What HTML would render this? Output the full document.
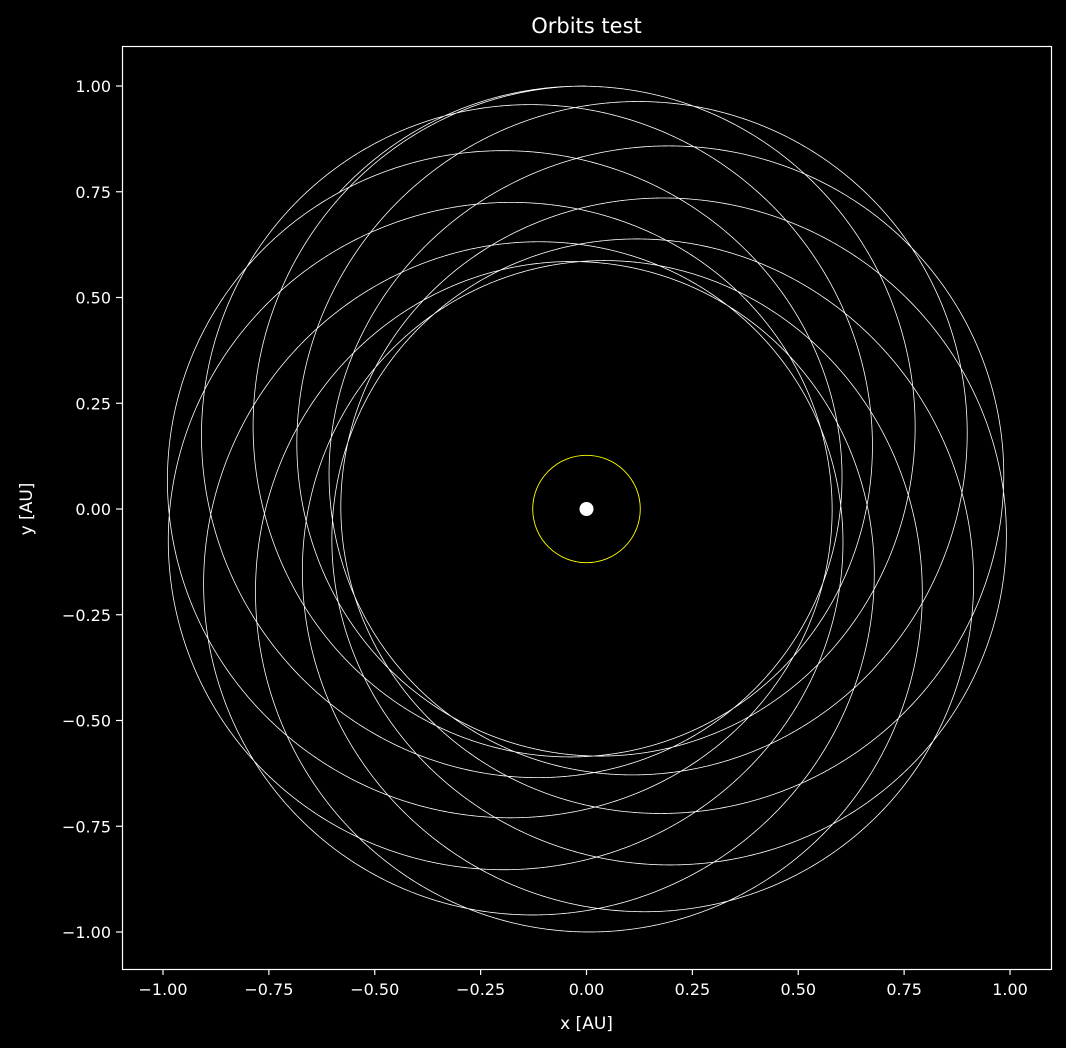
<!DOCTYPE html>
<html><head><meta charset="utf-8"><style>
html,body{margin:0;padding:0;background:#000;}
svg{display:block;font-family:"DejaVu Sans","Liberation Sans",sans-serif;}
</style></head><body>
<svg id="chart" width="1066" height="1048" viewBox="0 0 1066 1048">
<rect width="1066" height="1048" fill="#000"/>
<g id="plot"></g>
<rect x="122.5" y="46.5" width="929" height="923" fill="none" stroke="#fff" stroke-width="1.2"/>
<g id="axes"></g>
<text x="586.5" y="33" fill="#fff" font-size="21" text-anchor="middle">Orbits test</text>
<text x="586.5" y="1029" fill="#fff" font-size="17" text-anchor="middle">x [AU]</text>
<text x="32" y="509" fill="#fff" font-size="17" text-anchor="middle" transform="rotate(-90 32 509)">y [AU]</text>
</svg>
<script>
const xTicks=[-1,-0.75,-0.5,-0.25,0,0.25,0.5,0.75,1];
const yTicks=[-1,-0.75,-0.5,-0.25,0,0.25,0.5,0.75,1];
const apsides=[0.58,1.0];            // periapsis, apoapsis [AU]
const startAngleDeg=[90];            // start position angle
const endAngleDeg=[128];             // final position angle
const orbitCount=[11];
const precessionDeg=[33];            // per orbit
const innerRingRadius=[0.127];       // yellow ring
const NS="http://www.w3.org/2000/svg";
const X=v=>586.5+v*423.5, Y=v=>509-v*423;
const axes=document.getElementById('axes'), plot=document.getElementById('plot');
function mk(t,a,p){const e=document.createElementNS(NS,t);for(const k in a)e.setAttribute(k,a[k]);(p||axes).appendChild(e);return e;}
const fmt=v=>(v<0?'\u2212':'')+Math.abs(v).toFixed(2);
xTicks.forEach(v=>{
 const l=mk('line',{x1:X(v),x2:X(v),y1:969,y2:975,stroke:'#fff','stroke-width':1.2});
 
 
 const t=mk('text',{x:X(v),y:995,fill:'#fff','font-size':16,'text-anchor':'middle'});t.textContent=fmt(v);
 
 
});
yTicks.forEach(v=>{
 const l=mk('line',{x1:116,x2:122,y1:Y(v),y2:Y(v),stroke:'#fff','stroke-width':1.2});
 
 
 const t=mk('text',{x:111,y:Y(v)+6,fill:'#fff','font-size':16,'text-anchor':'end'});t.textContent=fmt(v);
 
 
});
// orbit
const rp=apsides[0], ra=apsides[1], a=(rp+ra)/2, e=(ra-rp)/(ra+rp), p=a*(1-e*e);
const th0=startAngleDeg[0]*Math.PI/180;
const th1=(endAngleDeg[0]+360*orbitCount[0])*Math.PI/180;
const prec=precessionDeg[0]/360;
let d='';
for(let th=th0;th<=th1+1e-9;th+=0.004){
 const w=th0+Math.PI+(th-th0)*prec;
 const r=p/(1+e*Math.cos(th-w));
 d+=(d?'L':'M')+X(r*Math.cos(th)).toFixed(2)+' '+Y(r*Math.sin(th)).toFixed(2);
}
const path=mk('path',{d:d,fill:'none',stroke:'#fff','stroke-width':0.8},plot);


const ring=mk('ellipse',{cx:X(0),cy:Y(0),rx:innerRingRadius[0]*423.5,ry:innerRingRadius[0]*423,fill:'none',stroke:'#ffff00','stroke-width':0.9},plot);


const sun=mk('circle',{cx:X(0),cy:Y(0),r:7,fill:'#fff'},plot);


</script>
</body></html>
